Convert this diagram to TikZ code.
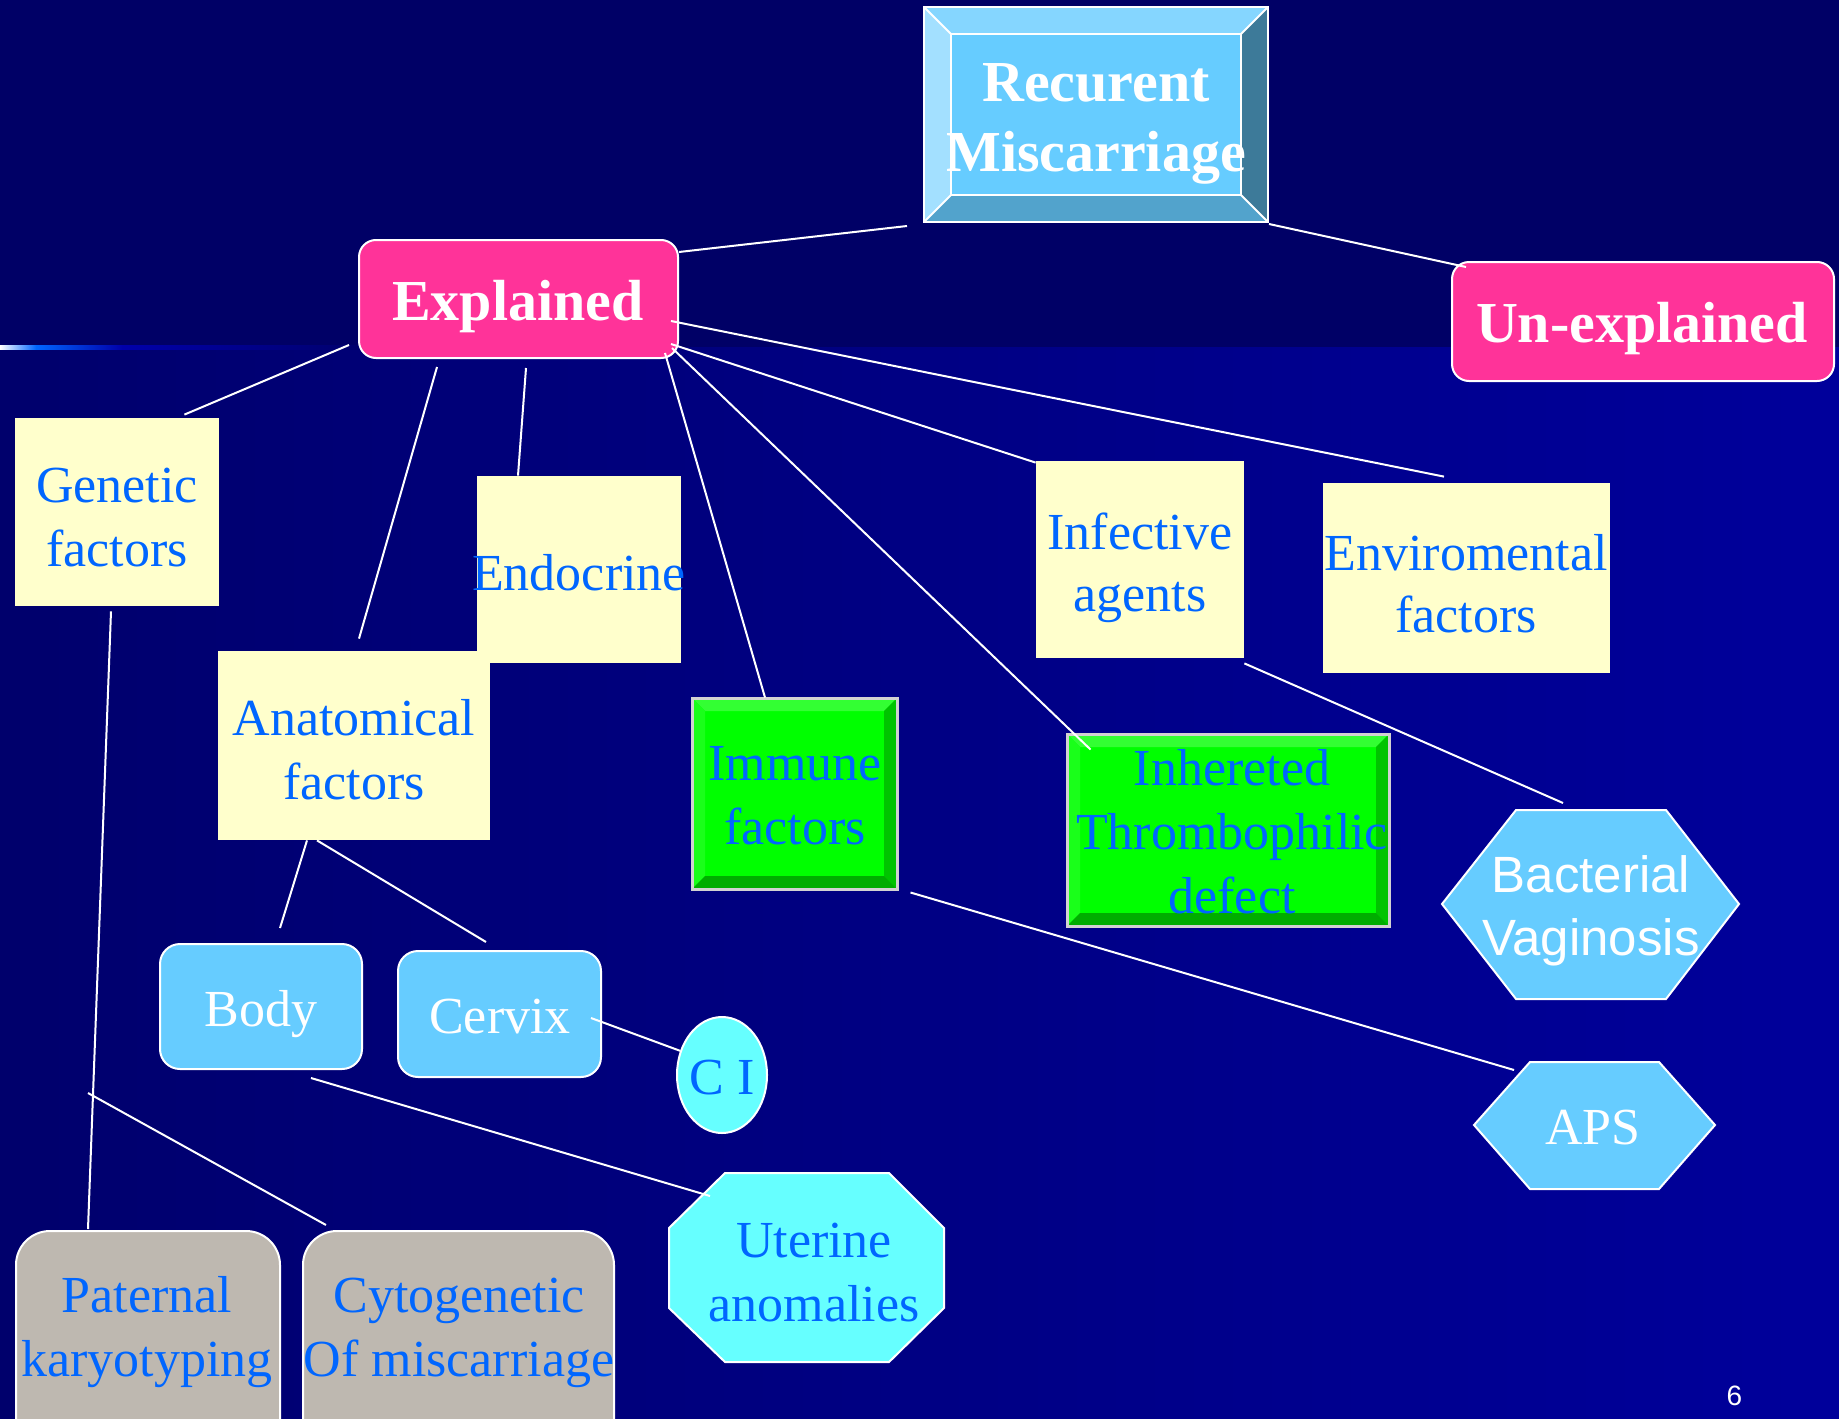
\documentclass[tikz,border=0pt]{standalone}
\usepackage{fontspec}
\setmainfont{Liberation Serif}
\newfontfamily\arialf{Liberation Sans}
\usetikzlibrary{calc,shapes.geometric}
\definecolor{bgtop}{HTML}{000066}
\definecolor{bgl}{RGB}{0,0,108}
\definecolor{bgr}{RGB}{0,0,155}
\definecolor{gblue}{HTML}{0066FF}
\definecolor{gnavy}{HTML}{0000AA}
\definecolor{pink}{HTML}{FF3399}
\definecolor{ylw}{HTML}{FFFFCC}
\definecolor{lblue}{HTML}{66CCFF}
\definecolor{cyn}{HTML}{66FFFF}
\definecolor{gry}{RGB}{190,184,176}
\definecolor{tblue}{HTML}{0066FF}
\definecolor{rmC}{HTML}{66CCFF}
\definecolor{rmT}{HTML}{85D6FF}
\definecolor{rmL}{HTML}{A3E0FF}
\definecolor{rmR}{HTML}{3D7A99}
\definecolor{rmB}{HTML}{52A3CC}
\definecolor{grC}{HTML}{00FF00}
\definecolor{grT}{HTML}{33FF33}
\definecolor{grL}{HTML}{1AFF1A}
\definecolor{grR}{HTML}{00C400}
\definecolor{grB}{HTML}{00AD00}
\pgfdeclarehorizontalshading{lowbg}{100bp}{color(0bp)=(bgl); color(25bp)=(bgl); color(75bp)=(bgr); color(100bp)=(bgr)}
\pgfdeclarehorizontalshading{gline}{100bp}{color(0bp)=(white); color(25bp)=(white); color(30bp)=(gblue); color(42bp)=(gnavy); color(75bp)=(bgl); color(100bp)=(bgl)}
\newcommand\mlines[1]{\begin{tabular}[t]{@{}c@{}}#1\end{tabular}}
\newcommand\bevel[6]{%
  \fill[#6C] (#1,#2) rectangle (#3,#4);
  \fill[#6T] (#1,#2) -- (#3,#2) -- ({#3-#5},{#2+#5}) -- ({#1+#5},{#2+#5}) -- cycle;
  \fill[#6L] (#1,#2) -- ({#1+#5},{#2+#5}) -- ({#1+#5},{#4-#5}) -- (#1,#4) -- cycle;
  \fill[#6R] (#3,#2) -- ({#3-#5},{#2+#5}) -- ({#3-#5},{#4-#5}) -- (#3,#4) -- cycle;
  \fill[#6B] (#1,#4) -- ({#1+#5},{#4-#5}) -- ({#3-#5},{#4-#5}) -- (#3,#4) -- cycle;}
\tikzset{
  box/.style={rectangle, inner sep=0pt},
  ybox/.style={box, fill=ylw},
  pinkbox/.style={box, fill=pink, draw=white, line width=1pt, rounded corners=8.5pt},
  lbbox/.style={box, fill=lblue, draw=white, line width=1pt, rounded corners=10pt},
  grybox/.style={box, fill=gry, draw=white, line width=1pt, rounded corners=17pt},
  grnbox/.style={box, draw=gray!35!white, line width=1.5pt},
  polyshape/.style={draw=white, line width=1pt},
  txt/.style={anchor=base, inner sep=0pt, text=tblue, font=\fontsize{26}{32}\selectfont},
  wtxt/.style={txt, text=white},
  btxt/.style={anchor=base, inner sep=0pt, text=white, font=\bfseries\fontsize{29}{35}\selectfont},
  conn/.style={draw=white, line width=1pt}
}
\begin{document}
\begin{tikzpicture}[x=0.5pt,y=-0.5pt]
\useasboundingbox (0,0) rectangle (1839,1418);
\clip (0,0) rectangle (1839,1418);
% background
\fill[bgtop] (0,0) rectangle (1839,347);
\shade[shading=lowbg] (0,347) rectangle (1839,1418);
\shade[shading=gline] (0,345) rectangle (360,349);

% top bevel box
\bevel{924}{7}{1268}{222}{27}{rm}
\draw[white, line width=1pt] (951,34) rectangle (1241,195);
\draw[white, line width=1pt] (924,7) -- (951,34) (1268,7) -- (1241,34) (924,222) -- (951,195) (1268,222) -- (1241,195);
\node[box, draw=white, line width=1pt, minimum width=172pt, minimum height=107.5pt] (rm) at (1096,114.5) {};

% pink boxes
\node[pinkbox, minimum width=159.5pt, minimum height=59pt] (ex) at (518.5,299) {};
\node[pinkbox, minimum width=191pt, minimum height=59.5pt] (un) at (1643,321.5) {};

% yellow boxes
\node[ybox, minimum width=102pt, minimum height=94pt] (gen) at (117,512) {};
\node[ybox, minimum width=102pt, minimum height=93.5pt] (endo) at (579,569.5) {};
\node[ybox, minimum width=136pt, minimum height=94.5pt] (anat) at (354,745.5) {};
\node[ybox, minimum width=104pt, minimum height=98.5pt] (inf) at (1140,559.5) {};
\node[ybox, minimum width=143.5pt, minimum height=95pt] (env) at (1466.5,578) {};

% green bevel boxes
\bevel{692}{698}{897}{889}{13}{gr}
\node[grnbox, minimum width=102.5pt, minimum height=95.5pt] (imm) at (794.5,793.5) {};
\bevel{1067}{734}{1389}{926}{13}{gr}
\node[grnbox, minimum width=161pt, minimum height=96pt] (inh) at (1228,830) {};

% light blue boxes
\node[lbbox, minimum width=101pt, minimum height=62.5pt] (body) at (261,1006.5) {};
\node[lbbox, minimum width=101.5pt, minimum height=63pt] (cer) at (499.5,1014) {};
\node[ellipse, inner sep=0pt, fill=cyn, draw=white, line width=1pt, minimum width=45pt, minimum height=58pt] (ci) at (722,1075) {};

% polygons
\path[polyshape, fill=lblue] (1516,810) -- (1666,810) -- (1739,904) -- (1666,999) -- (1516,999) -- (1442,904) -- cycle;
\path[polyshape, fill=lblue] (1530,1062) -- (1659,1062) -- (1715,1125) -- (1659,1189) -- (1530,1189) -- (1474,1125) -- cycle;
\path[polyshape, fill=cyn] (725,1173) -- (889,1173) -- (944,1228) -- (944,1308) -- (889,1362) -- (725,1362) -- (669,1308) -- (669,1228) -- cycle;

% gray boxes
\node[grybox, minimum width=132pt, minimum height=114.5pt] (pat) at (148,1345.5) {};
\node[grybox, minimum width=155.5pt, minimum height=114.5pt] (cyt) at (458.5,1345.5) {};

% texts
\node[btxt] (rmt) at (1096,102) {\mlines{Recurent\\Miscarriage}};
\node[btxt] (ext) at (518,320) {Explained};
\node[btxt] (unt) at (1642,342) {Un-explained};
\node[txt] (gent) at (117,502) {\mlines{Genetic\\factors}};
\node[txt] (endot) at (579,590) {Endocrine};
\node[txt] (anatt) at (354,735) {\mlines{Anatomical\\factors}};
\node[txt, font=\fontsize{26}{31}\selectfont] (inft) at (1140,549) {\mlines{Infective\\agents}};
\node[txt, font=\fontsize{26}{31}\selectfont] (envt) at (1466,570) {\mlines{Enviromental\\factors}};
\node[txt] (immt) at (795,780) {\mlines{Immune\\factors}};
\node[txt] (inht) at (1232,785) {\mlines{Inhereted\\Thrombophilic\\defect}};
\node[wtxt, font=\arialf\fontsize{25.5}{31.5}\selectfont] (bvt) at (1591,892) {\mlines{Bacterial\\Vaginosis}};
\node[wtxt] (apst) at (1593,1144) {APS};
\node[wtxt] (bodyt) at (261,1026) {Body};
\node[wtxt] (cert) at (500,1033) {Cervix};
\node[txt] (cit) at (722,1094) {C I};
\node[txt] (utt) at (814,1257) {\mlines{Uterine\\anomalies}};
\node[txt] (patt) at (147,1312) {\mlines{Paternal\\karyotyping}};
\node[txt] (cytt) at (459,1312) {\mlines{Cytogenetic\\Of miscarriage}};
\node[anchor=base, inner sep=0pt, text=white, font=\arialf\fontsize{14}{16}\selectfont] (pg) at (1734.5,1405) {6};

% free-end coordinates
\coordinate (bvtop) at (1563,803);
\coordinate (apsleft) at (1514,1070);
\coordinate (uttop) at (710,1196);
\coordinate (gbranch) at (88,1093);

% connectors
\draw[conn] ($(rm.south west)+(-16,3)$) -- ($(ex.north east)+(0,13)$);
\draw[conn] ($(rm.south east)+(0,1)$) -- ($(un.north west)+(15,6)$);
\draw[conn] ($(ex.south west)+(-9,-14)$) -- ($(gen.north east)+(-35,-3)$);
\draw[conn] ($(ex.south west)+(79,8)$) -- ($(anat.north)+(5,-12)$);
\draw[conn] ($(ex.south)+(7.5,9)$) -- ($(endo.north)+(-61,0)$);
\draw[conn] ($(ex.south east)+(-14,-6)$) -- ($(imm.north)+(-29.5,1)$);
\draw[conn] ($(ex.south east)+(-7,-11)$) -- ($(inh.north west)+(25,17)$);
\draw[conn] ($(ex.south east)+(-8,-15)$) -- ($(inf.north west)+(0,2)$);
\draw[conn] ($(ex.east)+(-8,22)$) -- ($(env.north)+(-22.5,-6)$);
\draw[conn] ($(inf.south east)+(0,5)$) -- (bvtop);
\draw[conn] ($(imm.south east)+(12,2)$) -- (apsleft);
\draw[conn] ($(anat.south)+(-47,0)$) -- ($(body.north)+(19,-15)$);
\draw[conn] ($(anat.south)+(-37,0)$) -- ($(cer.north)+(-13.5,-8)$);
\draw[conn] ($(cer.east)+(-11,4)$) -- (ci.150);
\draw[conn] ($(body.south)+(50,8)$) -- (uttop);
\draw[conn] ($(gen.south)+(-6,5)$) -- ($(pat.north)+(-60,-1)$);
\draw[conn] (gbranch) -- ($(cyt.north west)+(24,-5)$);
\end{tikzpicture}
\end{document}
